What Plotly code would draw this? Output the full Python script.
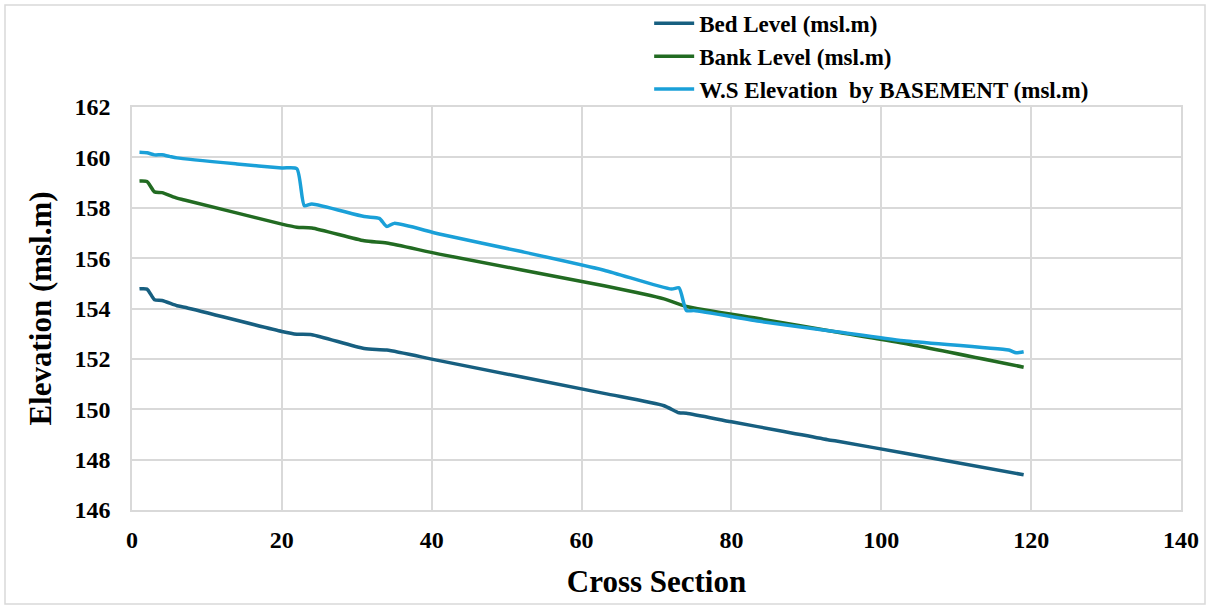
import plotly.graph_objects as go

# Longitudinal profile along the reach: cross-section number vs elevation (msl.m)
bed_x = [1, 2, 3, 4, 6, 7, 20, 22, 24, 31, 34, 41, 63, 71, 73, 74, 80, 87, 93, 94, 103, 119]
bed_y = [154.78, 154.77, 154.35, 154.32, 154.11, 154.05, 153.09, 152.98, 152.96, 152.41,
         152.35, 151.93, 150.63, 150.14, 149.86, 149.84, 149.50, 149.12, 148.78, 148.74,
         148.26, 147.40]

bank_x = [1, 2, 3, 4, 6, 7, 20, 22, 24, 31, 34, 41, 63, 71, 74, 84, 94, 103, 119]
bank_y = [159.06, 159.04, 158.63, 158.60, 158.38, 158.31, 157.35, 157.23, 157.20, 156.69,
          156.60, 156.16, 154.90, 154.38, 154.08, 153.58, 153.07, 152.62, 151.67]

ws_x = [1, 2, 3, 4, 5, 6, 14, 20, 22, 23, 24, 31, 33, 34, 35, 41, 52, 63, 72, 73, 74, 75,
        84, 94, 103, 117, 118, 119]
ws_y = [160.20, 160.18, 160.10, 160.10, 160.04, 159.98, 159.74, 159.58, 159.55, 158.08,
        158.15, 157.65, 157.58, 157.26, 157.38, 156.96, 156.26, 155.52, 154.77, 154.82,
        153.92, 153.92, 153.48, 153.08, 152.72, 152.35, 152.24, 152.28]

x_ticks = [0, 20, 40, 60, 80, 100, 120, 140]
y_ticks = [146, 148, 150, 152, 154, 156, 158, 160, 162]

FONT = "Liberation Serif"
GRID = "#d9d9d9"

fig = go.Figure()
series = [
    ("Bed Level (msl.m)", bed_x, bed_y, "#175f80"),
    ("Bank Level (msl.m)", bank_x, bank_y, "#226b22"),
    ("W.S Elevation  by BASEMENT (msl.m)", ws_x, ws_y, "#1aa0d8"),
]
for name, xs, ys, color in series:
    fig.add_trace(go.Scatter(
        x=xs, y=ys, name=name, mode="lines",
        line=dict(color=color, width=3.5, shape="spline", smoothing=0.6),
    ))

fig.update_layout(
    width=1210, height=609,
    paper_bgcolor="white", plot_bgcolor="white",
    margin=dict(l=132, r=29, t=107, b=99, autoexpand=False),
    font=dict(family=FONT, color="black"),
    showlegend=True,
    legend=dict(
        x=0.493, y=1.261, xanchor="left", yanchor="top",
        font=dict(family=FONT, size=23, color="black", weight="bold"),
        bgcolor="rgba(0,0,0,0)", itemwidth=40, tracegroupgap=0,
    ),
    xaxis=dict(
        range=[0, 140], tickvals=x_ticks, ticktext=[str(v) for v in x_ticks],
        showgrid=True, gridcolor=GRID, gridwidth=1.5,
        showline=True, linecolor=GRID, linewidth=1.5, mirror=True,
        zeroline=False, ticks="", ticklabelstandoff=7,
        tickfont=dict(family=FONT, size=24, color="black", weight="bold"),
        title=dict(text="Cross Section", standoff=19,
                   font=dict(family=FONT, size=31, color="black", weight="bold")),
    ),
    yaxis=dict(
        range=[146, 162], tickvals=y_ticks, ticktext=[str(v) for v in y_ticks],
        showgrid=True, gridcolor=GRID, gridwidth=1.5,
        showline=True, linecolor=GRID, linewidth=1.5, mirror=True,
        zeroline=False, ticks="", ticklabelstandoff=15,
        tickfont=dict(family=FONT, size=24, color="black", weight="bold"),
        title=dict(text="Elevation (msl.m)", standoff=14,
                   font=dict(family=FONT, size=31, color="black", weight="bold")),
    ),
    shapes=[dict(
        type="rect", xref="paper", yref="paper",
        x0=(5 - 132) / 1049, x1=(1205 - 132) / 1049,
        y0=(510 - 604) / 403, y1=(510 - 5) / 403,
        line=dict(color=GRID, width=1.5), fillcolor="rgba(0,0,0,0)", layer="below",
    )],
)

fig.write_html("out.html")
